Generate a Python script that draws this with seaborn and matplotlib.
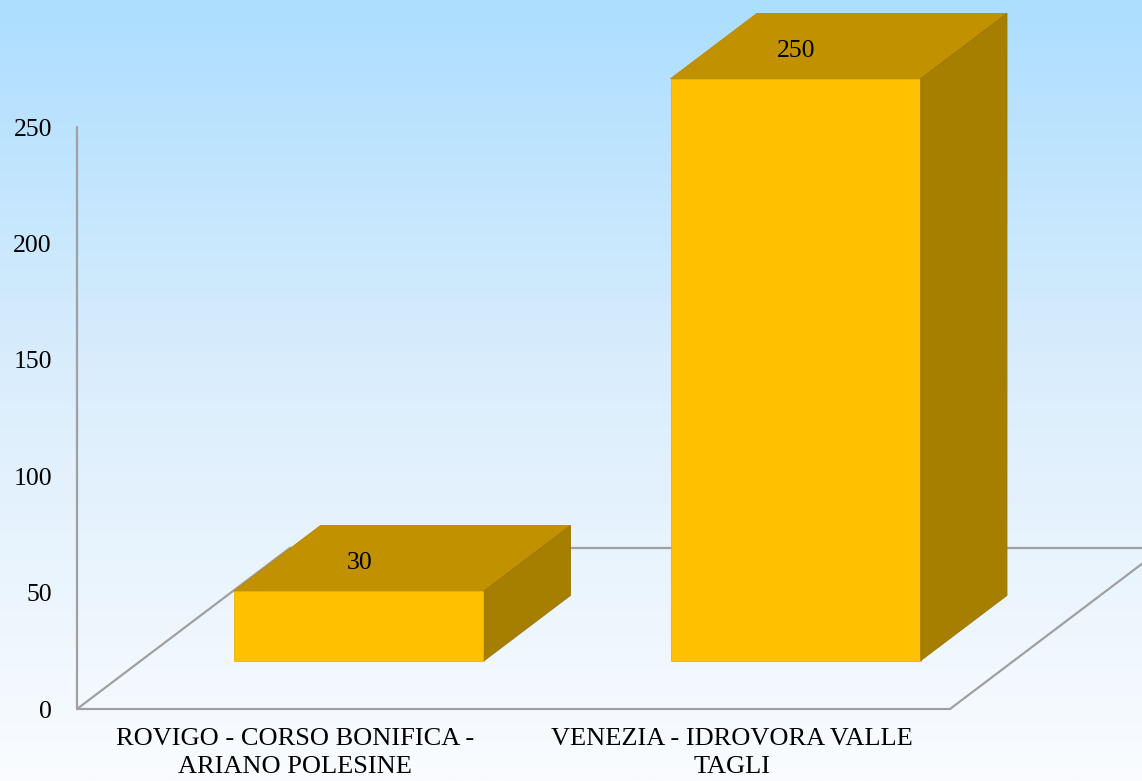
import numpy as np
import matplotlib
matplotlib.use("Agg")
import matplotlib.pyplot as plt
import seaborn as sns
from matplotlib.patches import Polygon

# Chart data
categories = ["ROVIGO - CORSO BONIFICA -\nARIANO POLESINE", "VENEZIA - IDROVORA VALLE\nTAGLI"]
values = [30, 250]
yticks = [0, 50, 100, 150, 200, 250]

sns.set_theme(style="white")
plt.rcParams["font.family"] = ["Liberation Serif", "DejaVu Serif"]

W, H = 1142, 781
fig = plt.figure(figsize=(W / 100, H / 100), dpi=100)

# Soft sky-blue to white vertical gradient
bg = fig.add_axes([0, 0, 1, 1], zorder=0)
top_c = np.array([172, 222, 255]) / 255
mid_c = np.array([220, 238, 252]) / 255
bot_c = np.array([250, 252, 255]) / 255
t = np.linspace(0, 1, 400)[:, None]
grad = np.where(t < 0.5,
                top_c + (mid_c - top_c) * (t / 0.5),
                mid_c + (bot_c - mid_c) * ((t - 0.5) / 0.5))
bg.imshow(grad[:, None, :], aspect="auto", extent=[0, 1, 0, 1])
bg.set_axis_off()

# Plot area (front plane of the 3D box)
ax = fig.add_axes([77 / W, (H - 709) / H, 873 / W, (709 - 127) / H], zorder=1)
ax.patch.set_alpha(0)

front = "#FFC000"
top = "#C29100"
side = "#A67E00"
grid_c = "#A0A0A0"

# Depth of the floor, in data units (x: category units, y: value units)
DEPTH_X, DEPTH_Y = 0.488, 69.2
BAR_D0, BAR_D1 = 0.30, 0.705  # bar front/back as fraction of floor depth

sns.barplot(x=categories, y=values, ax=ax, color=front, width=0.573,
            saturation=1, edgecolor="#E8B400", linewidth=0.6, zorder=3)
ax.set_xlim(-0.5, 1.5)
ax.set_ylim(0, 250)

# Floor outline and vertical axis
lw = 1.6
ax.plot([-0.5, 1.5], [0, 0], color=grid_c, lw=lw, zorder=1, clip_on=False)
ax.plot([-0.5, -0.5 + DEPTH_X], [0, DEPTH_Y], color=grid_c, lw=lw, zorder=1, clip_on=False)
ax.plot([-0.5 + DEPTH_X, 1.5 + DEPTH_X], [DEPTH_Y, DEPTH_Y], color=grid_c, lw=lw, zorder=1, clip_on=False)
ax.plot([1.5, 1.5 + DEPTH_X], [0, DEPTH_Y], color=grid_c, lw=lw, zorder=1, clip_on=False)
ax.plot([-0.5, -0.5], [0, 250], color=grid_c, lw=lw, zorder=1, clip_on=False)

# Push each bar back into the box and add its top and side faces
ox, oy = DEPTH_X * BAR_D0, DEPTH_Y * BAR_D0
dx, dy = DEPTH_X * (BAR_D1 - BAR_D0), DEPTH_Y * (BAR_D1 - BAR_D0)
for rect, v in zip(ax.patches, values):
    x0 = rect.get_x() + ox
    w = rect.get_width()
    y0 = oy
    h = rect.get_height()
    rect.set_x(x0)
    rect.set_y(y0)
    rect.set_clip_on(False)
    yt = y0 + h
    ax.add_patch(Polygon([(x0, yt), (x0 + w, yt), (x0 + w + dx, yt + dy), (x0 + dx, yt + dy)],
                         closed=True, facecolor=top, edgecolor="#B88A00", lw=0.6,
                         zorder=3, clip_on=False))
    ax.add_patch(Polygon([(x0 + w, y0), (x0 + w + dx, y0 + dy), (x0 + w + dx, yt + dy), (x0 + w, yt)],
                         closed=True, facecolor=side, edgecolor="#9C7700", lw=0.6,
                         zorder=3, clip_on=False))
    ax.text(x0 + w / 2, yt + dy * 0.42, f"{v}", ha="center", va="center",
            fontsize=18.5, color="black", zorder=4, clip_on=False)

for s in ax.spines.values():
    s.set_visible(False)
ax.set_yticks(yticks)
ax.set_yticklabels([str(v) for v in yticks], fontsize=18.5, color="black")
ax.tick_params(axis="y", length=0, pad=18)
ax.tick_params(axis="x", length=0, pad=14, labelsize=19, labelcolor="black")
for lab in ax.get_xticklabels():
    lab.set_linespacing(1.3)
ax.set_xlabel("")
ax.set_ylabel("")

fig.savefig("out.png", dpi=100)
